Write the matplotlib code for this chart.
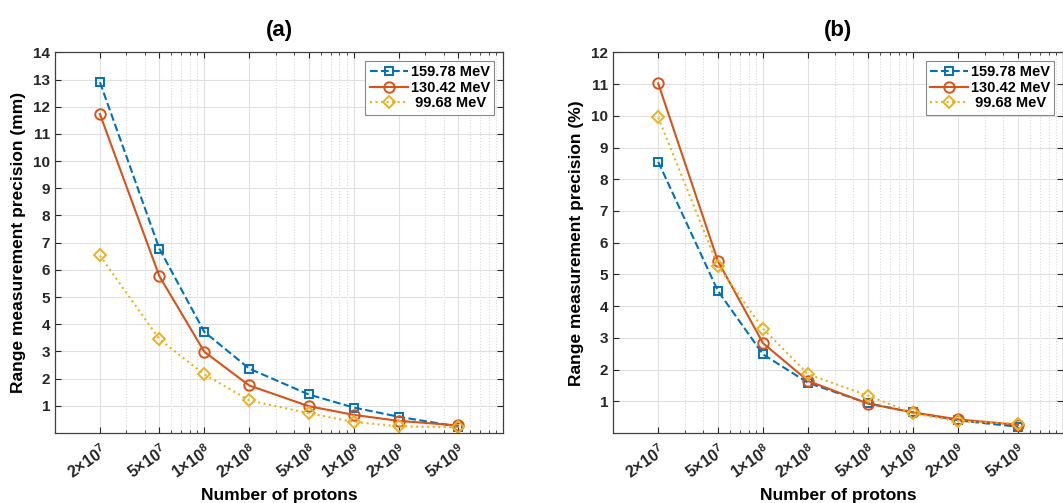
import numpy as np
import matplotlib
matplotlib.use("Agg")
import matplotlib.pyplot as plt
from matplotlib.ticker import FixedLocator, LogLocator, NullFormatter

plt.rcParams["font.family"] = ["Liberation Sans", "DejaVu Sans"]
plt.rcParams["font.weight"] = "bold"
plt.rcParams["mathtext.fontset"] = "custom"
plt.rcParams["mathtext.rm"] = "Liberation Sans:bold"
plt.rcParams["mathtext.bf"] = "Liberation Sans:bold"

protons = [2e7, 5e7, 1e8, 2e8, 5e8, 1e9, 2e9, 5e9]
tick_labels = [r"$\mathbf{2{\times}10^{7}}$", r"$\mathbf{5{\times}10^{7}}$",
               r"$\mathbf{1{\times}10^{8}}$", r"$\mathbf{2{\times}10^{8}}$",
               r"$\mathbf{5{\times}10^{8}}$", r"$\mathbf{1{\times}10^{9}}$",
               r"$\mathbf{2{\times}10^{9}}$", r"$\mathbf{5{\times}10^{9}}$"]
energies = ["159.78 MeV", "130.42 MeV", " 99.68 MeV"]

# range precision in mm
mm_159 = [12.9, 6.78, 3.72, 2.37, 1.42, 0.94, 0.6, 0.24]
mm_130 = [11.73, 5.77, 2.99, 1.75, 0.99, 0.67, 0.45, 0.28]
mm_99 = [6.53, 3.45, 2.16, 1.2, 0.73, 0.41, 0.25, 0.21]

# range precision in percent
pct_159 = [8.55, 4.48, 2.48, 1.58, 0.94, 0.65, 0.4, 0.2]
pct_130 = [11.02, 5.42, 2.83, 1.64, 0.93, 0.65, 0.43, 0.26]
pct_99 = [9.95, 5.27, 3.29, 1.85, 1.18, 0.62, 0.37, 0.3]

colors = ["#0072BD", "#D95319", "#EDB120"]
styles = [("--", "s", 5.5), ("-", "o", 7.5), (":", "D", 6.5)]

fig = plt.figure(figsize=(10.63, 5.03), dpi=100)
ax_a = fig.add_axes([0.0517, 0.139, 0.4215, 0.757])
ax_b = fig.add_axes([0.5767, 0.139, 0.4235, 0.757])


def draw(ax, series, ymax, ylabel, title):
    for vals, c, (ls, mk, ms), lab in zip(series, colors, styles, energies):
        ax.plot(protons, vals, linestyle=ls, marker=mk, markersize=ms,
                markerfacecolor="none", markeredgewidth=1.4, color=c,
                linewidth=1.5, label=lab)
    ax.set_xscale("log")
    ax.set_xlim(1e7, 1e10)
    ax.set_ylim(0, ymax)
    ax.set_yticks(range(1, ymax + 1))
    ax.set_yticklabels([str(v) for v in range(1, ymax + 1)],
                       fontweight="bold", fontsize=11)
    ax.xaxis.set_major_locator(FixedLocator(protons))
    ax.set_xticklabels(tick_labels, rotation=35, ha="right",
                       rotation_mode="anchor", fontsize=11.5)
    ax.xaxis.set_minor_locator(LogLocator(base=10, subs=np.arange(1, 10),
                                          numticks=20))
    ax.xaxis.set_minor_formatter(NullFormatter())
    ax.tick_params(axis="both", which="both", direction="in", top=True,
                   right=True, colors="#262626")
    ax.tick_params(axis="both", which="major", length=4)
    ax.tick_params(axis="x", which="minor", length=2)
    ax.tick_params(axis="x", which="major", pad=6)
    ax.grid(True, which="major", color="#e0e0e0", linewidth=0.8)
    ax.grid(True, which="minor", axis="x", color="#d8d8d8", linestyle=":",
            linewidth=0.8)
    ax.set_axisbelow(True)
    for sp in ax.spines.values():
        sp.set_color("#404040")
        sp.set_linewidth(0.9)
    ax.set_xlabel("Number of protons", fontsize=12.5, fontweight="bold",
                  labelpad=4)
    ax.set_ylabel(ylabel, fontsize=12.5, fontweight="bold", labelpad=5)
    ax.set_title(title, fontsize=16, fontweight="bold", pad=12)
    leg = ax.legend(loc="upper right", fontsize=10.5, fancybox=False,
                    edgecolor="#888888", framealpha=1, handlelength=2.6,
                    handletextpad=0.2, borderpad=0.3, labelspacing=0.1,
                    borderaxespad=0.6)
    leg.get_frame().set_linewidth(0.8)
    for t in leg.get_texts():
        t.set_fontweight("bold")


draw(ax_a, [mm_159, mm_130, mm_99], 14,
     "Range measurement precision (mm)", "(a)")
draw(ax_b, [pct_159, pct_130, pct_99], 12,
     "Range measurement precision (%)", "(b)")

fig.savefig("out.png", dpi=100)
